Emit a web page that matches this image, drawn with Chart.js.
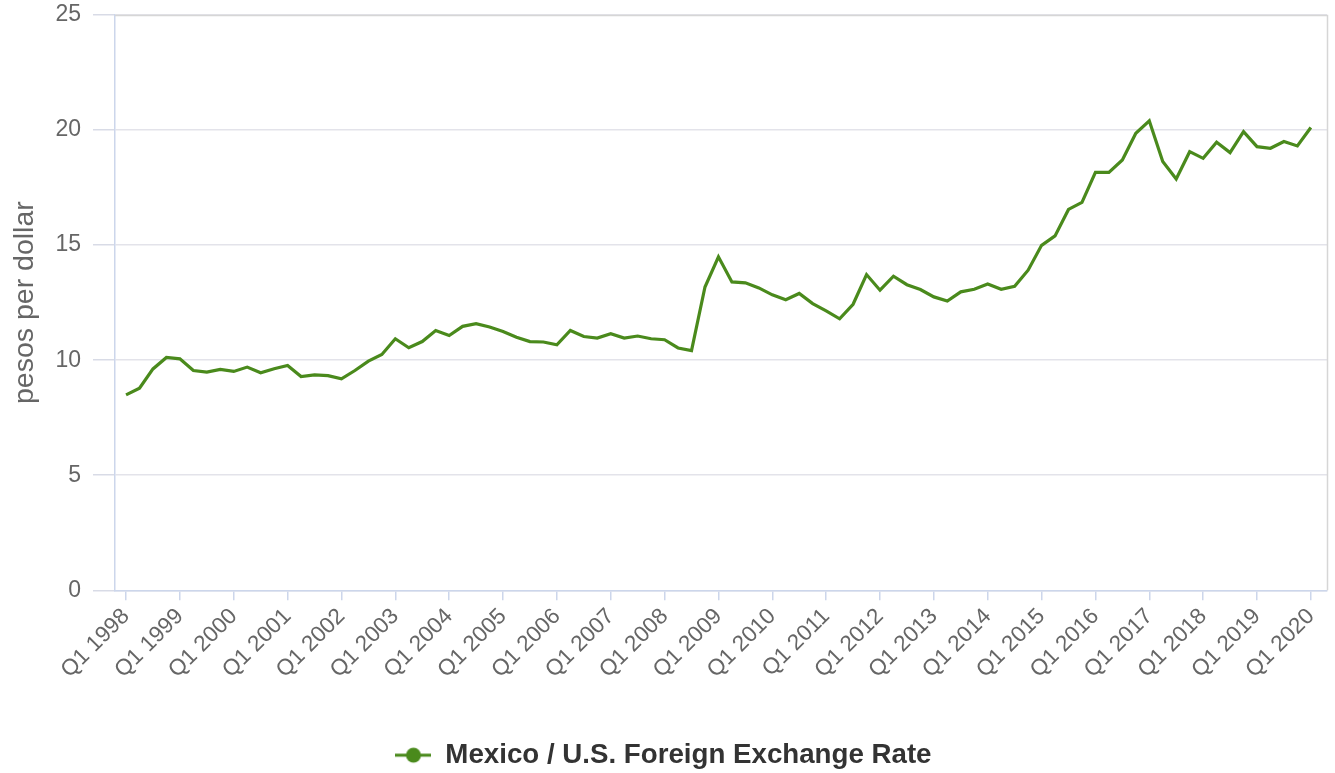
<!DOCTYPE html>
<html><head><meta charset="utf-8">
<script src="https://cdn.jsdelivr.net/npm/chart.js@4.4.1/dist/chart.umd.min.js"></script>
<style>html,body{margin:0;padding:0;background:#fff;overflow:hidden}#wrap{width:1335px;height:773px;position:relative}</style>
</head><body><div id="wrap"><canvas id="c" width="1335" height="773"></canvas></div>
<script>
const tickLabels = ['Q1 1998','Q1 1999','Q1 2000','Q1 2001','Q1 2002','Q1 2003','Q1 2004','Q1 2005','Q1 2006','Q1 2007','Q1 2008','Q1 2009','Q1 2010','Q1 2011','Q1 2012','Q1 2013','Q1 2014','Q1 2015','Q1 2016','Q1 2017','Q1 2018','Q1 2019','Q1 2020'];
const rates = [
  8.49, 8.78, 9.62, 10.12, 10.06, 9.55, 9.48, 9.60, 9.51, 9.70,
  9.45, 9.63, 9.77, 9.29, 9.36, 9.33, 9.19, 9.55, 9.96, 10.25,
  10.93, 10.54, 10.81, 11.29, 11.07, 11.47, 11.59, 11.44, 11.25, 11.00,
  10.81, 10.79, 10.67, 11.29, 11.03, 10.96, 11.15, 10.96, 11.05, 10.93,
  10.89, 10.53, 10.42, 13.18, 14.49, 13.40, 13.36, 13.14, 12.84, 12.63,
  12.90, 12.46, 12.14, 11.80, 12.43, 13.72, 13.04, 13.65, 13.28, 13.07,
  12.75, 12.57, 12.97, 13.08, 13.31, 13.08, 13.21, 13.91, 14.99, 15.40,
  16.55, 16.86, 18.16, 18.16, 18.70, 19.86, 20.40, 18.63, 17.87, 19.06,
  18.77, 19.47, 19.02, 19.93, 19.28, 19.21, 19.50, 19.31, 20.11
];
const seriesName = 'Mexico / U.S. Foreign Exchange Rate';
const yAxisTitle = 'pesos per dollar';
const quartersPerTick = 4;

const GREEN = '#4a8a1c';
const FONT = "'Liberation Sans', Arial, sans-serif";

// legend icon: line with a circle
const icon = document.createElement('canvas');
icon.width = 36; icon.height = 18;
(function(){
  const g = icon.getContext('2d');
  g.strokeStyle = GREEN; g.lineWidth = 3;
  g.beginPath(); g.moveTo(0, 9); g.lineTo(36, 9); g.stroke();
  g.fillStyle = GREEN; g.beginPath(); g.arc(18, 9, 7.5, 0, Math.PI*2); g.fill();
})();

const frame = {
  id: 'frame',
  afterDraw(chart) {
    const {ctx, chartArea: a} = chart;
    ctx.save();
    ctx.strokeStyle = '#d6d6d6';
    ctx.lineWidth = 1.5;
    ctx.beginPath();
    ctx.moveTo(a.left, a.top + 0.5);
    ctx.lineTo(a.right + 0.5, a.top + 0.5);
    ctx.lineTo(a.right + 0.5, a.bottom);
    ctx.stroke();
    ctx.restore();
  }
};

new Chart(document.getElementById('c'), {
  type: 'line',
  data: {
    datasets: [{
      label: seriesName,
      data: rates.map((v, i) => ({x: i, y: v})),
      borderColor: GREEN,
      backgroundColor: GREEN,
      borderWidth: 3.2,
      pointRadius: 0,
      pointStyle: icon,
      tension: 0,
      fill: false
    }]
  },
  options: {
    responsive: false,
    animation: false,
    devicePixelRatio: 1,
    layout: {padding: {top: 15, right: 8, left: 0, bottom: -6}},
    plugins: {
      tooltip: {enabled: false},
      legend: {
        position: 'bottom',
        labels: {
          usePointStyle: true,
          pointStyleWidth: 36,
          color: '#333333',
          font: {family: FONT, size: 27.7, weight: 'bold'},
          padding: 10
        }
      }
    },
    scales: {
      x: {
        type: 'linear',
        min: -0.82,
        max: 89.2,
        afterFit(s) { s.height = 141; },
        border: {display: true, color: '#ccd6eb', width: 1.5},
        grid: {drawOnChartArea: false, drawTicks: true, tickLength: 10, color: '#ccd6eb', lineWidth: 1.5},
        ticks: {
          stepSize: quartersPerTick,
          includeBounds: false,
          autoSkip: false,
          minRotation: 45,
          maxRotation: 45,
          padding: 3,
          color: '#666666',
          font: {family: FONT, size: 22.5},
          callback: (v) => (v % quartersPerTick === 0 && tickLabels[v / quartersPerTick]) ? tickLabels[v / quartersPerTick] : ''
        }
      },
      y: {
        min: 0,
        max: 25,
        afterFit(s) { s.width = 115; s.paddingTop = 0; s.paddingBottom = 0; },
        border: {display: true, color: '#ccd6eb', width: 1.5},
        grid: {color: '#e3e3ea', lineWidth: 1.5, tickLength: 22, tickColor: '#d8dbe6'},
        ticks: {stepSize: 5, padding: 12, color: '#666666', font: {family: FONT, size: 23}},
        title: {display: true, text: yAxisTitle, color: '#666666', font: {family: FONT, size: 28.5}, padding: {top: 8, bottom: 0}}
      }
    }
  },
  plugins: [frame]
});
</script></body></html>
